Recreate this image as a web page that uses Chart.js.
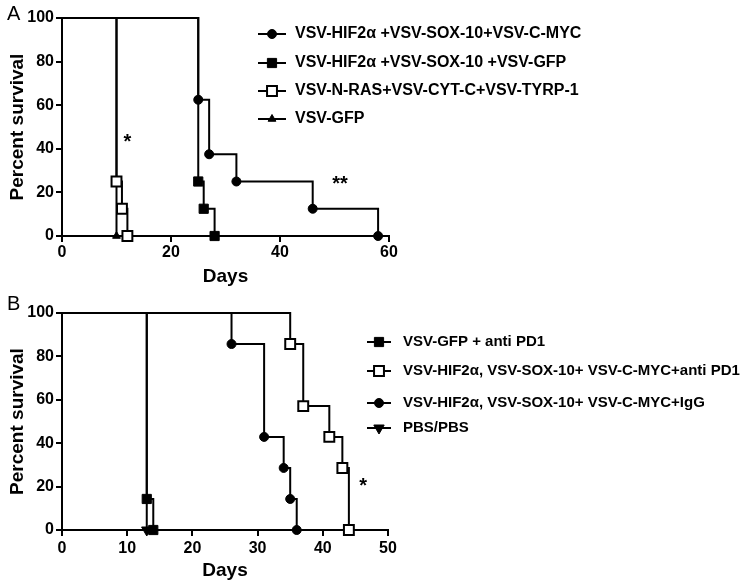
<!DOCTYPE html>
<html>
<head>
<meta charset="utf-8">
<script src="https://cdn.jsdelivr.net/npm/chart.js@4.4.0/dist/chart.umd.min.js"></script>
<style>
  html, body { margin: 0; padding: 0; background: #fff; }
  #wrap { position: relative; width: 752px; height: 582px; }
  canvas { position: absolute; left: 0; }
</style>
</head>
<body>
<div id="wrap">
  <canvas id="chartA" width="752" height="290" style="top:0"></canvas>
  <canvas id="chartB" width="752" height="292" style="top:290px"></canvas>
</div>
<script>
// Panel A data
const labelsA = [
    'VSV-HIF2\u03b1 +VSV-SOX-10+VSV-C-MYC',
    'VSV-HIF2\u03b1 +VSV-SOX-10 +VSV-GFP',
    'VSV-N-RAS+VSV-CYT-C+VSV-TYRP-1',
    'VSV-GFP'
];
const daysA_myc = [0, 25, 27, 32, 46, 58];
const survA_myc = [100, 62.5, 37.5, 25, 12.5, 0];
const daysA_gfp3 = [0, 25, 26, 28];
const survA_gfp3 = [100, 25, 12.5, 0];
const daysA_nras = [0, 10, 11, 12];
const survA_nras = [100, 25, 12.5, 0];
const daysA_gfp = [0, 10];
const survA_gfp = [100, 0];
const xTicksA = [0, 20, 40, 60];
const starsA = [{ text: '*', x: 12, y: 43 }, { text: '**', x: 51, y: 23.5 }];

// Panel B data
const labelsB = [
    'VSV-GFP + anti PD1',
    'VSV-HIF2\u03b1, VSV-SOX-10+ VSV-C-MYC+anti PD1',
    'VSV-HIF2\u03b1, VSV-SOX-10+ VSV-C-MYC+IgG',
    'PBS/PBS'
];
const daysB_gfp = [0, 13, 14];
const survB_gfp = [100, 14.3, 0];
const daysB_pd1 = [0, 35, 37, 41, 43, 44];
const survB_pd1 = [100, 85.7, 57.1, 42.9, 28.6, 0];
const daysB_igg = [0, 26, 31, 34, 35, 36];
const survB_igg = [100, 85.7, 42.9, 28.6, 14.3, 0];
const daysB_pbs = [0, 13];
const survB_pbs = [100, 0];
const xTicksB = [0, 10, 20, 30, 40, 50];
const starsB = [{ text: '*', x: 46.2, y: 20 }];

const yTicks = [0, 20, 40, 60, 80, 100];

const FONT = 'Arial, "Liberation Sans", Helvetica, sans-serif';
Chart.defaults.font.family = FONT;
Chart.defaults.color = '#000';

// marker styles
const markers = {
    dot:     { pointStyle: 'circle',   r: 4.5, fill: '#000', bw: 1, rot: 0 },
    square:  { pointStyle: 'rect',     r: 6.5, fill: '#000', bw: 1, rot: 0 },
    box:     { pointStyle: 'rect',     r: 7,   fill: '#fff', bw: 2, rot: 0 },
    tri:     { pointStyle: 'triangle', r: 4.5, fill: '#000', bw: 1, rot: 0 },
    triDown: { pointStyle: 'triangle', r: 6,   fill: '#000', bw: 1, rot: 180 }
};

function makeDataset(label, days, surv, m) {
    return {
        label: label,
        data: days.map((d, i) => ({ x: d, y: surv[i] })),
        stepped: true,
        borderColor: '#000',
        borderWidth: 2,
        fill: false,
        clip: false,
        pointStyle: m.pointStyle,
        pointRotation: m.rot,
        pointRadius: days.map((d, i) => i === 0 ? 0 : m.r),
        pointHoverRadius: days.map((d, i) => i === 0 ? 0 : m.r),
        pointBackgroundColor: m.fill,
        pointBorderColor: '#000',
        pointBorderWidth: m.bw,
        legendRadius: m.r
    };
}

// legend, stars and panel letter
const kmDecor = {
    id: 'kmDecor',
    afterDraw(chart, args, opts) {
        const ctx = chart.ctx;
        ctx.save();
        ctx.fillStyle = '#000';
        ctx.font = '20px ' + FONT;
        ctx.textBaseline = 'top';
        ctx.textAlign = 'left';
        ctx.fillText(opts.letter, opts.letterX, opts.letterY);

        chart.data.datasets.forEach((ds, i) => {
            const y = opts.rows[i];
            ctx.strokeStyle = '#000';
            ctx.lineWidth = 2;
            ctx.beginPath();
            ctx.moveTo(opts.x0, y);
            ctx.lineTo(opts.x1, y);
            ctx.stroke();
            ctx.fillStyle = ds.pointBackgroundColor;
            ctx.lineWidth = ds.pointBorderWidth;
            Chart.helpers.drawPoint(ctx, {
                pointStyle: ds.pointStyle,
                rotation: ds.pointRotation,
                radius: ds.legendRadius,
                borderWidth: ds.pointBorderWidth
            }, (opts.x0 + opts.x1) / 2, y);
            ctx.fillStyle = '#000';
            ctx.font = 'bold ' + opts.textSize + 'px ' + FONT;
            ctx.textBaseline = 'middle';
            ctx.fillText(ds.label, opts.textX, y);
        });

        const xs = chart.scales.x, ys = chart.scales.y;
        ctx.font = 'bold 20px ' + FONT;
        ctx.textAlign = 'center';
        ctx.textBaseline = 'middle';
        opts.stars.forEach(s => ctx.fillText(s.text, xs.getPixelForValue(s.x), ys.getPixelForValue(s.y)));
        ctx.restore();
    }
};

function makeOptions(p) {
    return {
        responsive: false,
        animation: false,
        layout: { padding: { left: 0, top: p.top, right: p.right, bottom: 0 } },
        plugins: {
            legend: { display: false },
            tooltip: { enabled: false },
            kmDecor: p.decor
        },
        scales: {
            x: {
                type: 'linear',
                min: 0,
                max: p.xTicks[p.xTicks.length - 1],
                afterBuildTicks: s => { s.ticks = p.xTicks.map(v => ({ value: v })); },
                afterFit: s => { s.height = p.xHeight; },
                border: { color: '#000', width: 2 },
                grid: { drawOnChartArea: false, drawTicks: true, tickLength: 6, color: '#000', lineWidth: 2 },
                ticks: { color: '#000', font: { size: 16, weight: 'bold' }, padding: p.xTickPad, maxRotation: 0, autoSkip: false },
                title: { display: true, text: 'Days', color: '#000', font: { size: 19, weight: 'bold' }, padding: { top: 0, bottom: p.titlePad } }
            },
            y: {
                type: 'linear',
                min: 0,
                max: 100,
                afterBuildTicks: s => { s.ticks = yTicks.map(v => ({ value: v })); },
                afterFit: s => { s.width = 62; },
                border: { color: '#000', width: 2 },
                grid: { drawOnChartArea: false, drawTicks: true, tickLength: 6, color: '#000', lineWidth: 2 },
                ticks: { color: '#000', font: { size: 16, weight: 'bold' }, padding: 2, autoSkip: false },
                title: { display: true, text: 'Percent survival', color: '#000', font: { size: 19, weight: 'bold' }, padding: { top: 6, bottom: 0 } }
            }
        }
    };
}

new Chart(document.getElementById('chartA'), {
    type: 'line',
    data: {
        datasets: [
            makeDataset(labelsA[0], daysA_myc, survA_myc, markers.dot),
            makeDataset(labelsA[1], daysA_gfp3, survA_gfp3, markers.square),
            makeDataset(labelsA[2], daysA_nras, survA_nras, markers.box),
            makeDataset(labelsA[3], daysA_gfp, survA_gfp, markers.tri)
        ]
    },
    options: makeOptions({
        top: 18, right: 363, xHeight: 54, xTickPad: 1, titlePad: 2, xTicks: xTicksA,
        decor: { letter: 'A', letterX: 7, letterY: 4, rows: [34, 63, 91, 119], x0: 258, x1: 286, textX: 295, textSize: 16, stars: starsA }
    }),
    plugins: [kmDecor]
});

new Chart(document.getElementById('chartB'), {
    type: 'line',
    data: {
        datasets: [
            makeDataset(labelsB[0], daysB_gfp, survB_gfp, markers.square),
            makeDataset(labelsB[1], daysB_pd1, survB_pd1, markers.box),
            makeDataset(labelsB[2], daysB_igg, survB_igg, markers.dot),
            makeDataset(labelsB[3], daysB_pbs, survB_pbs, markers.triDown)
        ]
    },
    options: makeOptions({
        top: 23, right: 364, xHeight: 52, xTickPad: 3, titlePad: 0, xTicks: xTicksB,
        decor: { letter: 'B', letterX: 7, letterY: 4, rows: [52, 81, 113, 138], x0: 367, x1: 391, textX: 403, textSize: 15, stars: starsB }
    }),
    plugins: [kmDecor]
});
</script>
</body>
</html>
